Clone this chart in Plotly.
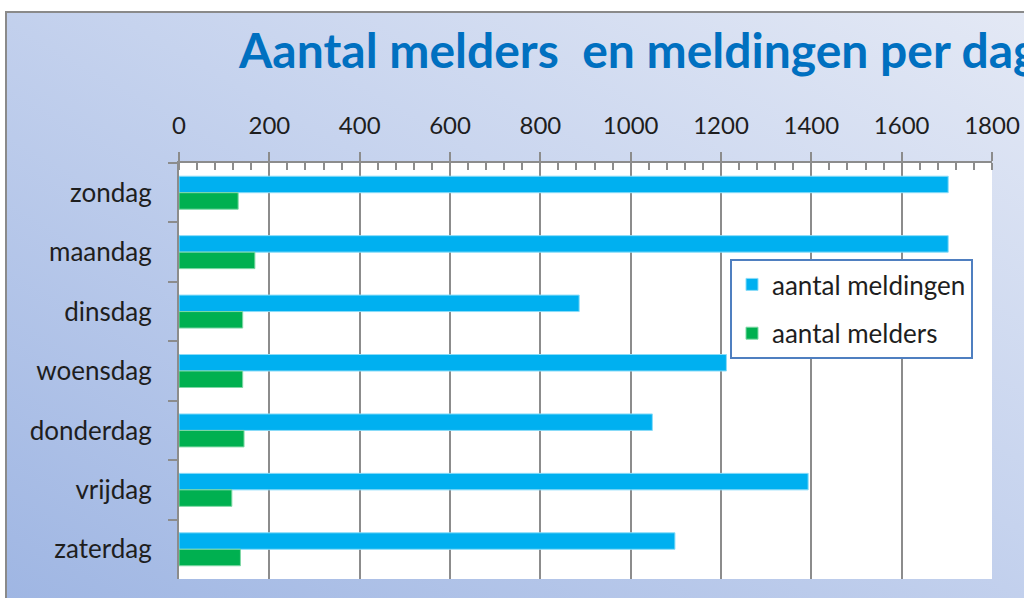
import base64
import plotly.graph_objects as go

days = ["zondag", "maandag", "dinsdag", "woensdag", "donderdag", "vrijdag", "zaterdag"]
meldingen = [1703, 1703, 886, 1212, 1048, 1393, 1098]
melders = [131, 168, 141, 141, 144, 117, 136]
x_ticks = [0, 200, 400, 600, 800, 1000, 1200, 1400, 1600, 1800]

title_text = "Aantal melders\u00a0 en meldingen per dag"

W, H = 1024, 598
L, R, T, B = 179, 992, 163, 579


def px_x(x):
    return (x - L) / (R - L)


def px_y(y):
    return (B - y) / (B - T)


svg = (
    '<svg xmlns="http://www.w3.org/2000/svg" width="1024" height="600" preserveAspectRatio="none">'
    '<defs><linearGradient id="g" x1="0" y1="1" x2="1" y2="0">'
    '<stop offset="0" stop-color="#9fb6e3"/>'
    '<stop offset="0.55" stop-color="#c6d3ee"/>'
    '<stop offset="1" stop-color="#e4e9f5"/>'
    '</linearGradient></defs>'
    '<rect width="1024" height="600" fill="url(#g)"/></svg>'
)
svg_uri = "data:image/svg+xml;base64," + base64.b64encode(svg.encode()).decode()

fig = go.Figure()
fig.add_trace(go.Bar(
    y=days, x=meldingen, orientation="h", name="aantal meldingen",
    marker=dict(color="#00B0F0", line=dict(color="#8adcf8", width=1)),
    legendgroup="a",
))
fig.add_trace(go.Bar(
    y=days, x=melders, orientation="h", name="aantal melders",
    marker=dict(color="#00B050", line=dict(color="#7fd8a6", width=1)),
    legendgroup="b",
))

grid = "#8c8c8c"
fig.update_layout(
    width=W, height=H, autosize=False,
    margin=dict(l=L, r=W - R, t=T, b=H - B, pad=0, autoexpand=False),
    paper_bgcolor="white",
    plot_bgcolor="white",
    barmode="group",
    bargap=0.445,
    bargroupgap=0,
    font=dict(family="Lato, 'Open Sans', sans-serif", size=24, color="#1e1e1e"),
    showlegend=True,
    legend=dict(
        x=px_x(730), y=px_y(259), xanchor="left", yanchor="top",
        bgcolor="white", bordercolor="#4f7fc0", borderwidth=2,
        font=dict(size=26, color="#1e1e1e"),
        traceorder="grouped", tracegroupgap=12,
    ),
    xaxis=dict(
        side="top", range=[0, 1800], tickvals=x_ticks,
        ticktext=[str(v) for v in x_ticks],
        showgrid=True, gridcolor=grid, gridwidth=2,
        showline=True, linecolor=grid, linewidth=2,
        ticks="outside", ticklen=9, tickcolor=grid, tickwidth=2,
        ticklabelstandoff=8,
        tickfont=dict(size=24),
        zeroline=False, automargin=False,
        minor=dict(ticks="inside", dtick=40, ticklen=7, tickcolor=grid, tickwidth=1.5, showgrid=False),
        fixedrange=True,
    ),
    yaxis=dict(
        autorange="reversed", type="category",
        showgrid=False, showline=True, linecolor=grid, linewidth=2,
        ticks="outside", ticklen=9, tickcolor=grid, tickwidth=2,
        tickson="boundaries", ticklabelstandoff=20,
        tickfont=dict(size=26), automargin=False,
        fixedrange=True,
    ),
    images=[dict(
        source=svg_uri, xref="paper", yref="paper",
        x=px_x(6), y=px_y(12), sizex=(1040 - 6) / (R - L), sizey=(600 - 12) / (B - T),
        xanchor="left", yanchor="top", sizing="stretch", layer="below",
    )],
    shapes=[
        dict(type="rect", xref="paper", yref="paper", layer="below",
             x0=px_x(6), x1=px_x(1040), y0=px_y(12), y1=px_y(620),
             line=dict(color="#8a8a8a", width=2), fillcolor="rgba(0,0,0,0)"),
        dict(type="rect", xref="paper", yref="paper", layer="below",
             x0=0, x1=1, y0=0, y1=1, line=dict(width=0), fillcolor="white"),
    ],
    annotations=[dict(
        text="<b>" + title_text + "</b>", xref="paper", yref="paper",
        x=px_x(236), y=px_y(50), xanchor="left", yanchor="middle",
        showarrow=False,
        font=dict(family="Lato, sans-serif", size=48, color="#0070C0"),
    )],
)

fig.write_html(
    "out.html",
    config={"displayModeBar": False},
    post_script="document.body.style.margin='0';document.body.style.overflow='hidden';",
)
